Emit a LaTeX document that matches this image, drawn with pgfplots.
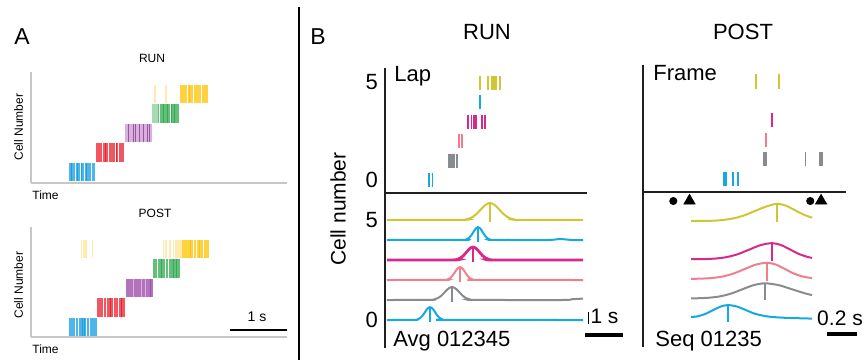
\documentclass[border=0pt]{standalone}
\usepackage{pgfplots}
\pgfplotsset{compat=1.18}
\usepackage{fontspec}
\setmainfont{Liberation Sans}

% panel A raster colours
\definecolor{aBlue}{HTML}{4DB5EA}
\definecolor{aBlueD}{HTML}{1C9FDD}
\definecolor{aRed}{HTML}{F15760}
\definecolor{aRedD}{HTML}{E52530}
\definecolor{aPurL}{HTML}{D8B2DB}
\definecolor{aPur}{HTML}{B273BC}
\definecolor{aPurD}{HTML}{9A54A6}
\definecolor{aGrn}{HTML}{62C07A}
\definecolor{aGrnL}{HTML}{A6DBB2}
\definecolor{aGrnD}{HTML}{34A853}
\definecolor{aYel}{HTML}{FFD240}
\definecolor{aYelD}{HTML}{F7C21C}
\definecolor{aYelF}{HTML}{FFEAB0}
% panel B cell colours
\definecolor{bCyan}{HTML}{14A9E1}
\definecolor{bGray}{HTML}{898C8E}
\definecolor{bPink}{HTML}{EF7F8D}
\definecolor{bMag}{HTML}{D62A8A}
\definecolor{bYel}{HTML}{D0C535}
\definecolor{ink}{HTML}{231F20}

\newcommand{\fA}{\fontsize{6}{7}\selectfont}
\newcommand{\fB}{\fontsize{11}{13}\selectfont}

\pgfplotsset{
  panelA/.style={scale only axis, anchor=south west, width=128pt,
    xmin=0, xmax=4.4912, ymin=0,
    axis x line*=bottom, axis y line*=left,
    axis line style={-, draw=black!22, line width=0.7pt},
    xtick=\empty, ytick=\empty, clip=false},
  panelB/.style={scale only axis, anchor=south west, xmin=0,
    axis y line*=left, xtick=\empty,
    axis line style={-, draw=ink, line width=1.2pt},
    clip=false, major tick length=0pt,
    yticklabel style={font=\fB},
    /pgf/number format/assume math mode=true},
  topB/.style={axis x line*=bottom},
  wl/.style={only marks, mark=|, mark size=4.63pt, mark options={draw=white, line width=0.5pt}},
  dl/.style={only marks, mark=|, mark size=4.63pt, mark options={line width=0.5pt}},
  fl/.style={only marks, mark=|, mark size=4.63pt, mark options={draw=aYelF, line width=0.7pt}},
  spk/.style={only marks, mark=|, mark size=3.5pt, mark options={line width=0.8pt}},
  trc/.style={smooth, line width=1pt},
  pk/.style={line width=1.25pt},
}

\begin{document}
\begin{tikzpicture}
\useasboundingbox (0,0) rectangle (433.5pt,-180pt);

% ---------------- Panel A, RUN ----------------
\begin{axis}[panelA, at={(15.5pt,-91.5pt)}, height=55.5pt, ymax=5.692]
  % cell 1
  \addplot[fill=aBlue, draw=none] coordinates {(0.667,0.1)(1.123,0.1)(1.123,1.05)(0.667,1.05)};
  \addplot[dl, aBlueD] coordinates {(0.714,0.575)(0.812,0.575)(0.890,0.575)(0.977,0.575)};
  \addplot[wl] coordinates {(0.772,0.575)(0.860,0.575)(0.947,0.575)(1.065,0.575)};
  % cell 2
  \addplot[fill=aRed, draw=none] coordinates {(1.140,1.1)(1.632,1.1)(1.632,2.05)(1.140,2.05)};
  \addplot[dl, aRedD] coordinates {(1.30,1.575)(1.50,1.575)};
  \addplot[wl] coordinates {(1.251,1.575)(1.368,1.575)(1.474,1.575)(1.532,1.575)};
  % cell 3
  \addplot[fill=aPurL, draw=none] coordinates {(1.649,2.1)(2.123,2.1)(2.123,3.05)(1.649,3.05)};
  \addplot[dl, aPurD] coordinates {(1.707,2.575)(1.795,2.575)(1.842,2.575)(1.912,2.575)(1.970,2.575)(2.040,2.575)(2.075,2.575)};
  % cell 4
  \addplot[fill=aGrn, draw=none] coordinates {(2.123,3.1)(2.596,3.1)(2.596,4.05)(2.123,4.05)};
  \addplot[fill=aGrnL, draw=none] coordinates {(2.123,3.1)(2.23,3.1)(2.23,4.05)(2.123,4.05)};
  \addplot[dl, aGrnD] coordinates {(2.321,3.575)(2.391,3.575)(2.468,3.575)(2.526,3.575)};
  \addplot[wl] coordinates {(2.263,3.575)(2.439,3.575)};
  % cell 5
  \addplot[fl] coordinates {(2.175,4.575)(2.368,4.575)};
  \addplot[fill=aYel, draw=none] coordinates {(2.614,4.1)(3.105,4.1)(3.105,5.05)(2.614,5.05)};
  \addplot[dl, aYelD] coordinates {(2.789,4.575)};
  \addplot[wl] coordinates {(2.749,4.575)(2.847,4.575)(2.995,4.575)};
\end{axis}

% ---------------- Panel A, POST ----------------
\begin{axis}[panelA, at={(15.5pt,-168.5pt)}, height=55pt, ymax=5.641]
  \addplot[fill=aBlue, draw=none] coordinates {(0.667,0.05)(1.158,0.05)(1.158,1.0)(0.667,1.0)};
  \addplot[dl, aBlueD] coordinates {(0.906,0.525)(0.930,0.525)};
  \addplot[wl] coordinates {(0.772,0.525)(0.830,0.525)(0.977,0.525)(1.035,0.525)};
  \addplot[fill=aRed, draw=none] coordinates {(1.158,1.05)(1.649,1.05)(1.649,2.0)(1.158,2.0)};
  \addplot[dl, aRedD] coordinates {(1.386,1.525)(1.591,1.525)};
  \addplot[wl] coordinates {(1.269,1.525)(1.328,1.525)(1.444,1.525)(1.532,1.525)};
  \addplot[fill=aPur, draw=none] coordinates {(1.667,2.05)(2.140,2.05)(2.140,3.0)(1.667,3.0)};
  \addplot[dl, aPurD] coordinates {(2.088,2.525)};
  \addplot[wl, mark options={draw=aPurL}] coordinates {(1.795,2.525)(1.942,2.525)(2.0,2.525)};
  \addplot[fill=aGrn, draw=none] coordinates {(2.140,3.05)(2.614,3.05)(2.614,4.0)(2.140,4.0)};
  \addplot[dl, aGrnD] coordinates {(2.293,3.525)(2.497,3.525)(2.556,3.525)};
  \addplot[wl] coordinates {(2.216,3.525)(2.351,3.525)(2.409,3.525)};
  % cell 5, with its early faint spikes
  \addplot[fl] coordinates {(0.889,4.525)(0.930,4.525)(0.965,4.525)(1.082,4.525)};
  \addplot[fill=aYelF, draw=none] coordinates {(2.526,4.05)(2.649,4.05)(2.649,5.0)(2.526,5.0)};
  \addplot[fl] coordinates {(2.321,4.525)(2.368,4.525)(2.439,4.525)(2.497,4.525)};
  \addplot[fill=aYel, draw=none] coordinates {(2.649,4.05)(3.123,4.05)(3.123,5.0)(2.649,5.0)};
  \addplot[dl, aYelD] coordinates {(2.80,4.525)(2.96,4.525)};
  \addplot[wl] coordinates {(2.847,4.525)(2.907,4.525)(3.023,4.525)};
\end{axis}

% ---------------- Panel B, RUN, single lap ----------------
\begin{axis}[panelB, topB, at={(192.5pt,-96.5pt)}, width=101pt, height=62.5pt,
  xmax=5.611, ymin=-0.667, ymax=5.744, ytick={0,5}]
  \addplot[spk, bCyan] coordinates {(1.222,0)(1.314,0)};
  \addplot[spk, bGray] coordinates {(1.77,1)(1.795,1)(1.82,1)(1.845,1)(1.87,1)(1.895,1)(1.912,1)(1.992,1)};
  \addplot[spk, bPink] coordinates {(2.056,2)(2.139,2)};
  \addplot[spk, bMag] coordinates {(2.297,3)(2.408,3)(2.472,3)(2.528,3)(2.686,3)(2.778,3)};
  \addplot[spk, bCyan] coordinates {(2.639,4)};
  \addplot[spk, bYel] coordinates {(2.639,5)(2.853,5)(2.955,5)(2.98,5)(3.005,5)(3.03,5)(3.055,5)(3.08,5)(3.092,5)(3.194,5)};
\end{axis}

% ---------------- Panel B, RUN, lap average ----------------
\begin{axis}[panelB, at={(192.5pt,-174pt)}, width=101pt, height=77.5pt,
  xmax=5.611, ymin=-1.4, ymax=6.35, axis x line=none, ytick={0,5}]
  \addplot[trc, bCyan] coordinates {(0.05,0)(0.83,0.005)(0.90,0.029)(0.97,0.088)(1.04,0.211)(1.11,0.394)(1.18,0.573)(1.25,0.65)(1.32,0.573)(1.39,0.394)(1.46,0.211)(1.53,0.088)(1.60,0.029)(1.67,0.005)(5.5,0)};
  \addplot[trc, bGray] coordinates {(0.05,1)(1.26,1.005)(1.361,1.029)(1.461,1.088)(1.561,1.211)(1.661,1.394)(1.761,1.573)(1.861,1.65)(1.961,1.573)(2.061,1.394)(2.161,1.211)(2.261,1.088)(2.361,1.029)(2.46,1.005)(4.9,1.0)(5.2,1.04)(5.5,1.07)};
  \addplot[trc, bPink] coordinates {(0.05,2)(1.663,2.005)(1.733,2.029)(1.803,2.088)(1.873,2.211)(1.943,2.394)(2.013,2.573)(2.083,2.65)(2.153,2.573)(2.223,2.394)(2.293,2.211)(2.363,2.088)(2.433,2.029)(2.503,2.005)(5.5,2)};
  \addplot[trc, bMag, line width=1.4pt] coordinates {(0.05,3)(1.904,3.005)(1.994,3.029)(2.084,3.088)(2.174,3.211)(2.264,3.394)(2.354,3.573)(2.444,3.65)(2.534,3.573)(2.624,3.394)(2.714,3.211)(2.804,3.088)(2.894,3.029)(2.984,3.005)(5.5,3)};
  \addplot[trc, bCyan] coordinates {(0.05,4)(2.193,4.005)(2.258,4.029)(2.323,4.088)(2.388,4.211)(2.453,4.394)(2.518,4.573)(2.583,4.65)(2.648,4.573)(2.713,4.394)(2.778,4.211)(2.843,4.088)(2.908,4.029)(2.973,4.005)(4.5,4)(4.85,4.05)(5.2,4.0)(5.5,4.0)};
  \addplot[trc, bYel] coordinates {(0.05,5)(2.137,5.009)(2.267,5.037)(2.397,5.115)(2.527,5.276)(2.657,5.516)(2.787,5.75)(2.917,5.85)(3.047,5.75)(3.177,5.516)(3.307,5.276)(3.437,5.115)(3.567,5.037)(3.697,5.009)(5.5,5)};
  % peak times
  \addplot[pk, bCyan] coordinates {(1.25,-0.08)(1.25,0.65)};
  \addplot[pk, bGray] coordinates {(1.861,0.92)(1.861,1.65)};
  \addplot[pk, bPink] coordinates {(2.083,1.92)(2.083,2.65)};
  \addplot[pk, bMag] coordinates {(2.444,2.92)(2.444,3.65)};
  \addplot[pk, bCyan] coordinates {(2.583,3.92)(2.583,4.65)};
  \addplot[pk, bYel] coordinates {(2.917,4.92)(2.917,5.85)};
\end{axis}

% ---------------- Panel B, POST, single frame ----------------
\begin{axis}[panelB, topB, at={(321.5pt,-96pt)}, width=101.5pt, height=63.5pt,
  xmax=1.3533, ymin=-0.667, ymax=5.846, ytick=\empty]
  \addplot[spk, bCyan, mark options={line width=1pt}] coordinates {(0.537,0)(0.552,0)(0.603,0)(0.632,0)};
  \addplot[spk, bGray, mark options={line width=1pt}] coordinates {(0.805,1)(0.817,1)(1.178,1)(1.192,1)};
  \addplot[spk, bGray, mark options={line width=0.5pt}] coordinates {(1.085,1)};
  \addplot[spk, bPink] coordinates {(0.82,2)};
  \addplot[spk, bMag] coordinates {(0.86,3)};
  \addplot[spk, bYel, mark size=3.7pt] coordinates {(0.753,5)(0.907,5)};
\end{axis}

% ---------------- Panel B, POST, sequence average ----------------
\begin{axis}[panelB, at={(321.5pt,-173.5pt)}, width=101.5pt, height=77.5pt,
  xmax=1.3533, ymin=-1.48, ymax=6.43, axis x line=none, ytick=\empty]
  \addplot[only marks, mark=*, mark size=1.8pt, black] coordinates {(0.202,5.97)(1.115,5.97)};
  \addplot[only marks, mark=triangle*, mark size=3.2pt, black] coordinates {(0.31,5.98)(1.187,5.98)};
  \addplot[trc, bYel] coordinates {(0.32,4.95)(0.443,4.96)(0.518,4.99)(0.593,5.07)(0.668,5.22)(0.743,5.45)(0.818,5.68)(0.893,5.83)(0.953,5.73)(1.013,5.50)(1.073,5.27)(1.127,5.12)};
  \addplot[trc, bMag] coordinates {(0.32,3.0)(0.41,3.007)(0.485,3.036)(0.56,3.111)(0.635,3.266)(0.71,3.497)(0.785,3.723)(0.86,3.82)(0.92,3.723)(0.98,3.497)(1.04,3.266)(1.10,3.111)(1.127,3.07)};
  \addplot[trc, bPink] coordinates {(0.32,2.0)(0.377,2.007)(0.452,2.036)(0.527,2.111)(0.602,2.266)(0.677,2.497)(0.752,2.723)(0.827,2.82)(0.887,2.723)(0.947,2.497)(1.007,2.266)(1.067,2.111)(1.127,2.036)};
  \addplot[trc, bGray] coordinates {(0.32,1.0)(0.363,1.007)(0.438,1.034)(0.513,1.104)(0.588,1.25)(0.663,1.467)(0.738,1.679)(0.813,1.77)(0.903,1.679)(0.993,1.467)(1.083,1.25)(1.127,1.17)};
  \addplot[trc, bCyan] coordinates {(0.32,0.05)(0.367,0.09)(0.417,0.214)(0.467,0.40)(0.517,0.582)(0.567,0.66)(0.627,0.582)(0.687,0.40)(0.747,0.214)(0.80,0.12)(0.85,0.06)(0.95,0.01)(1.127,-0.03)};
  \addplot[pk, bYel] coordinates {(0.893,4.92)(0.893,5.83)};
  \addplot[pk, bMag] coordinates {(0.86,2.9)(0.86,3.82)};
  \addplot[pk, bPink] coordinates {(0.827,1.9)(0.827,2.82)};
  \addplot[pk, bGray] coordinates {(0.813,0.92)(0.813,1.77)};
  \addplot[pk, bCyan] coordinates {(0.567,-0.2)(0.567,0.66)};
\end{axis}

% ---------------- labels, scale bars, spines, divider ----------------
\begin{scope}[x=0.5pt, y=-0.5pt]
\draw[line width=1.3pt] (299,7) -- (299,360);
% heavy left spines of panel B
\draw[ink, line width=1.45pt] (385,68) -- (385,348);
\draw[ink, line width=1.45pt] (643,65) -- (643,347);

\node[anchor=base west, inner sep=0, font=\fontsize{11.5}{13}\selectfont] at (14,44) {A};
\node[anchor=base west, inner sep=0, font=\fontsize{11.5}{13}\selectfont] at (310,44) {B};

\node[anchor=base, inner sep=0, font=\fA] at (152,62) {RUN};
\node[anchor=base, inner sep=0, font=\fA] at (155,217) {POST};
\node[rotate=90, inner sep=0, font=\fA] at (18.5,127) {Cell Number};
\node[rotate=90, inner sep=0, font=\fA] at (18.5,285) {Cell Number};
\node[anchor=base west, inner sep=0, font=\fA] at (32,199) {Time};
\node[anchor=base west, inner sep=0, font=\fA] at (32,353) {Time};
\draw[line width=1pt] (230,330) -- (287,330);
\node[anchor=base, inner sep=0, font=\fontsize{7}{8}\selectfont] at (257,321.5) {1 s};

\node[anchor=base, inner sep=0, font=\fB] at (487,39) {RUN};
\node[anchor=base, inner sep=0, font=\fB] at (743,39) {POST};
\node[rotate=90, inner sep=0, font=\fontsize{10.5}{12}\selectfont] at (338,209) {Cell number};
\node[anchor=base west, inner sep=0, font=\fB] at (394,81) {Lap};
\node[anchor=base west, inner sep=0, font=\fB] at (653,80) {Frame};
\node[anchor=base west, inner sep=0, font=\fB] at (393,346) {Avg 012345};
\node[anchor=base west, inner sep=0, font=\fB] at (655,346.5) {Seq 01235};

\draw[line width=0.5pt] (588.3,311.7) -- (588.3,324.3);
\node[anchor=base, inner sep=0, font=\fontsize{10.5}{12}\selectfont] at (604.5,323) {1 s};
\draw[line width=2pt] (585,335) -- (623,335);
\node[anchor=base, inner sep=0, font=\fontsize{10.5}{12}\selectfont] at (840,325) {0.2 s};
\draw[line width=2pt] (827,334) -- (857,334);
\end{scope}
\end{tikzpicture}
\end{document}
